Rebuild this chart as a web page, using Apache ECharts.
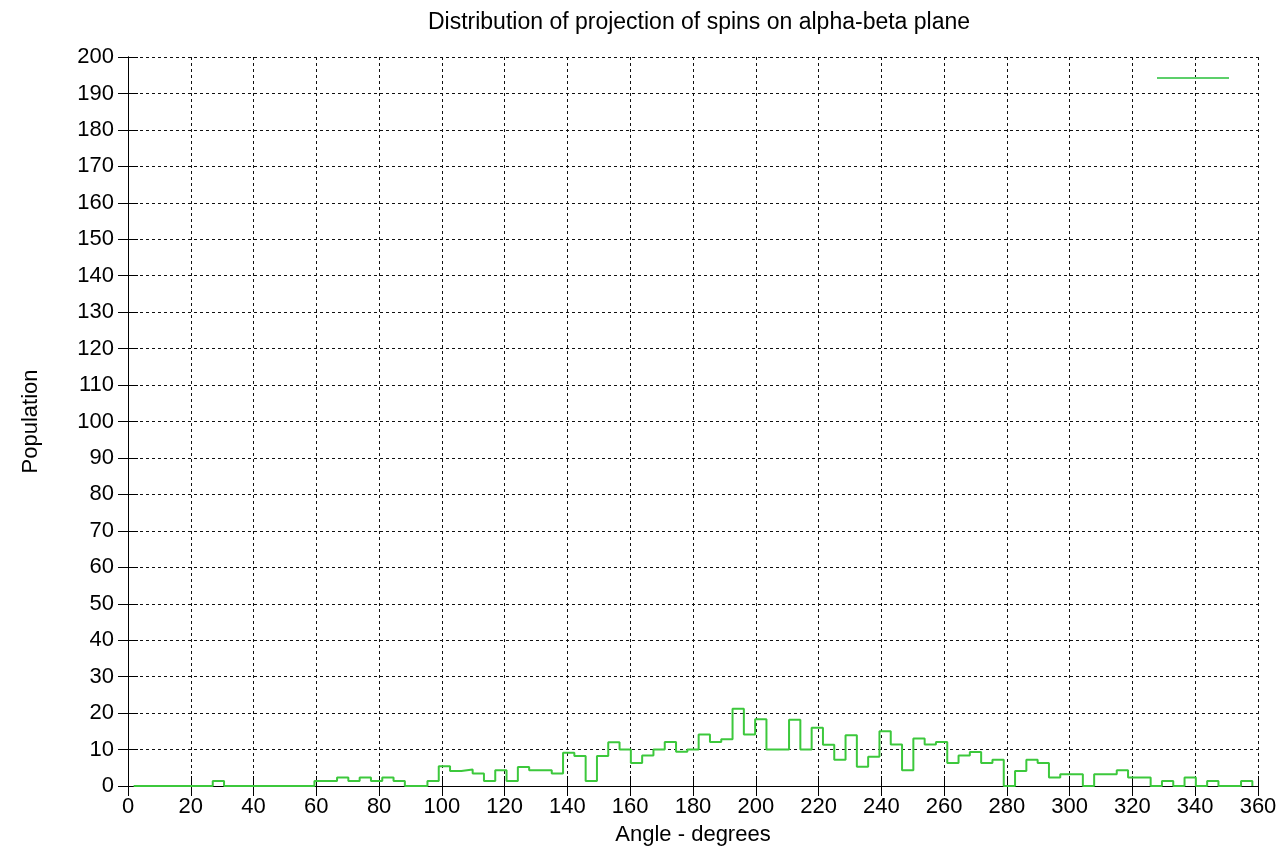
<!DOCTYPE html>
<html>
<head>
<meta charset="utf-8">
<script src="https://cdn.jsdelivr.net/npm/echarts@6/dist/echarts.min.js"></script>
<style>
  html, body { margin: 0; padding: 0; background: #fff; }
  #chart { width: 1286px; height: 864px; }
</style>
</head>
<body>
<div id="chart"></div>
<script>
// ---- data ----
const titleText = 'Distribution of projection of spins on alpha-beta plane';
const xAxisName = 'Angle - degrees';
const yAxisName = 'Population';
const seriesName = ' ';
// histogram bins: 100 bins of 3.6 degrees, step starts at binStart
const binStart = 1.8;
const binWidth = 3.6;
const population = [
  0, 0, 0, 0, 0, 0, 0, 1.4, 0, 0,
  0, 0, 0, 0, 0, 0, 1.4, 1.4, 2.3, 1.4,
  2.3, 1.4, 2.3, 1.4, 0, 0, 1.4, 5.4, 4.1, 4.5,
  3.4, 1.4, 4.3, 1.4, 5.2, 4.3, 4.3, 3.4, 9.1, 8.2,
  1.4, 8.2, 12.0, 10.0, 6.3, 8.4, 10.0, 12.1, 9.4, 10.0,
  14.1, 12.1, 12.8, 21.2, 14.1, 18.3, 10.0, 10.0, 18.2, 10.0,
  16.0, 11.3, 7.2, 13.9, 5.3, 8.0, 15.0, 11.4, 4.3, 13.0,
  11.4, 12.1, 6.3, 8.4, 9.3, 6.3, 7.2, 0, 4.1, 7.2,
  6.3, 2.3, 3.2, 3.2, 0, 3.2, 3.2, 4.3, 2.3, 2.3,
  0, 1.4, 0, 2.3, 0, 1.4, 0, 0, 1.4, 0
];
const xMin = 0, xMax = 360, xStep = 20;
const yMin = 0, yMax = 200, yStep = 10;

const angles = population.map((_, i) => +(binStart + i * binWidth).toFixed(1));
const points = angles.map((a, i) => [a, population[i]]);

const FONT = '"Liberation Sans", Arial, Helvetica, sans-serif';
const chart = echarts.init(document.getElementById('chart'), null, { renderer: 'canvas' });

const gridDash = { color: '#111', width: 1, type: [3, 3] };
const tickStyle = { color: '#000', width: 1 };
const lineColor = '#3cc83c';

chart.setOption({
  animation: false,
  backgroundColor: '#fff',
  textStyle: { fontFamily: FONT },
  title: {
    text: titleText,
    left: 694,
    top: 6,
    textAlign: 'center',
    textStyle: { fontFamily: FONT, fontSize: 23, fontWeight: 'normal', color: '#000' }
  },
  legend: {
    data: [{ name: seriesName, icon: 'rect' }],
    left: 1152,
    top: 67,
    itemWidth: 72,
    itemHeight: 2,
    itemStyle: { color: '#5ccf6a' },
    textStyle: { fontSize: 12, color: '#000' }
  },
  grid: { left: 128, right: 28, top: 57, bottom: 78, containLabel: false },
  xAxis: [
    {
      type: 'value', min: xMin, max: xMax, interval: xStep, position: 'bottom',
      name: xAxisName, nameLocation: 'middle', nameGap: 38,
      nameTextStyle: { fontFamily: FONT, fontSize: 22, color: '#000' },
      axisLine: { show: true, lineStyle: { color: '#000', width: 1 } },
      axisTick: { show: true, inside: true, length: 10, lineStyle: tickStyle },
      axisLabel: { show: true, margin: 10, fontFamily: FONT, fontSize: 22, color: '#000' },
      splitLine: { show: true, lineStyle: gridDash }
    },
    {
      type: 'value', min: xMin, max: xMax, interval: xStep, position: 'top',
      axisLine: { show: true, lineStyle: { color: '#000', width: 1 } },
      axisTick: { show: true, inside: true, length: 10, lineStyle: tickStyle },
      axisLabel: { show: false },
      splitLine: { show: false }
    }
  ],
  yAxis: [
    {
      type: 'value', min: yMin, max: yMax, interval: yStep, position: 'left',
      name: yAxisName, nameLocation: 'middle', nameGap: 86, nameRotate: 90,
      nameTextStyle: { fontFamily: FONT, fontSize: 22, color: '#000' },
      axisLine: { show: true, lineStyle: { color: '#000', width: 1 } },
      axisTick: { show: true, inside: true, length: 10, lineStyle: tickStyle },
      axisLabel: { show: true, margin: 14, fontFamily: FONT, fontSize: 22, color: '#000' },
      splitLine: { show: true, lineStyle: gridDash }
    },
    {
      type: 'value', min: yMin, max: yMax, interval: yStep, position: 'right',
      axisLine: { show: true, lineStyle: { color: '#000', width: 1 } },
      axisTick: { show: true, inside: true, length: 10, lineStyle: tickStyle },
      axisLabel: { show: false },
      splitLine: { show: false }
    }
  ],
  series: [
    {
      name: seriesName,
      type: 'line',
      step: 'end',
      xAxisIndex: 0,
      yAxisIndex: 0,
      data: points,
      symbol: 'none',
      lineStyle: { color: lineColor, width: 2 },
      itemStyle: { color: lineColor }
    }
  ]
});
</script>
</body>
</html>
